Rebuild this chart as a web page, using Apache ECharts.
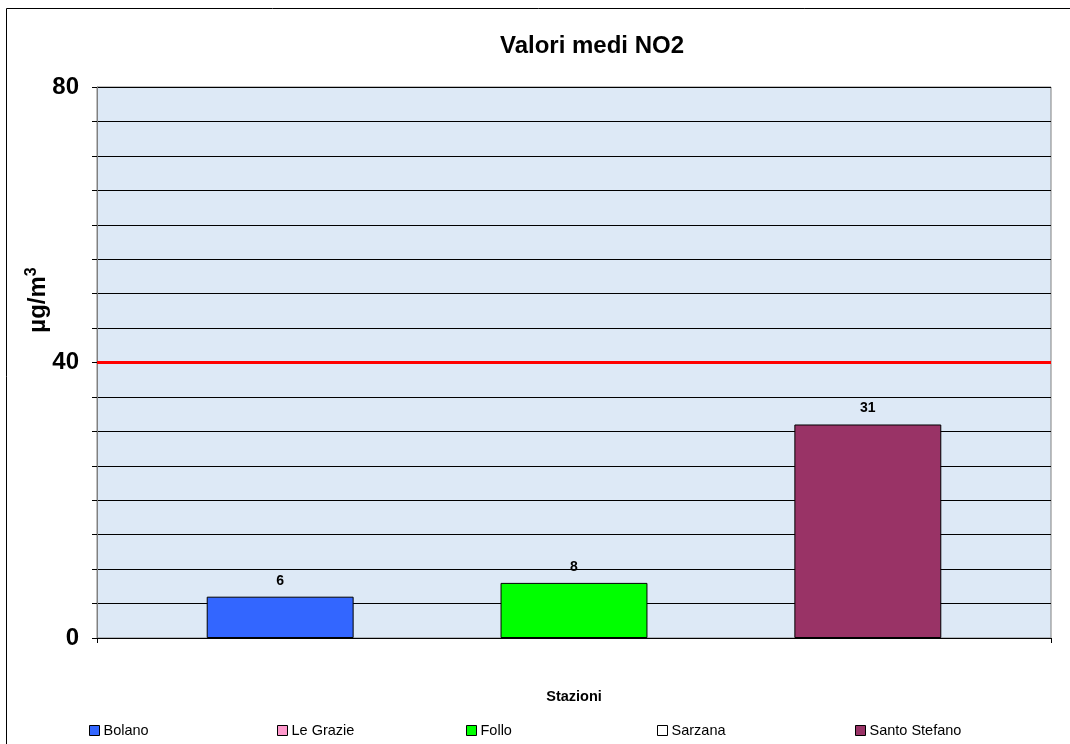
<!DOCTYPE html>
<html>
<head>
<meta charset="utf-8">
<title>Valori medi NO2</title>
<script src="https://cdn.jsdelivr.net/npm/echarts@6/dist/echarts.min.js"></script>
<style>
  html, body { margin: 0; padding: 0; background: #fff; }
  #chart { width: 1070px; height: 744px; }
</style>
</head>
<body>
<div id="chart"></div>
<script>
// dati
var categories = [''];
var stazioni = ['Bolano', 'Le Grazie', 'Follo', 'Sarzana', 'Santo Stefano'];
var valori = [6, null, 8, null, 31];
var colori = ['#3366ff', '#ff99cc', '#00ff00', '#ffffff', '#993366'];
var limite = 40;
var yLabels = [0, 40, 80];
var legendLeft = [89, 277, 466, 657, 855];

var font = 'Liberation Sans, Arial, sans-serif';
var myChart = echarts.init(document.getElementById('chart'));

var series = stazioni.map(function (nome, i) {
    var s = {
        name: nome,
        type: 'bar',
        data: [valori[i]],
        barGap: '0%',
        barCategoryGap: '23%',
        itemStyle: {
            color: colori[i],
            borderColor: '#000',
            borderWidth: 1
        },
        label: {
            show: true,
            position: 'top',
            distance: 9,
            color: '#000',
            fontFamily: font,
            fontWeight: 'bold',
            fontSize: 14
        }
    };
    if (i === 0) {
        s.markLine = {
            symbol: 'none',
            silent: true,
            label: { show: false },
            lineStyle: { color: '#ff0000', width: 3, type: 'solid' },
            data: [{ yAxis: limite }]
        };
    }
    return s;
});

var legends = stazioni.map(function (nome, i) {
    return {
        data: [nome],
        left: legendLeft[i],
        top: 723,
        padding: 0,
        itemWidth: 10,
        itemHeight: 10,
        icon: 'rect',
        itemStyle: { borderColor: '#000', borderWidth: 1 },
        textStyle: { fontFamily: font, fontSize: 14.5, color: '#000', padding: [0, 0, 0, -1] },
        selectedMode: false
    };
});

var option = {
    animation: false,
    backgroundColor: '#fff',
    title: {
        text: 'Valori medi NO2',
        left: 587,
        textAlign: 'center',
        top: 29,
        textStyle: { fontFamily: font, fontSize: 24, fontWeight: 'bold', color: '#000' }
    },
    legend: legends,
    grid: {
        left: 97,
        right: 19,
        top: 87,
        bottom: 106,
        show: true,
        backgroundColor: '#dde9f6',
        borderColor: '#808080',
        borderWidth: 1
    },
    xAxis: {
        type: 'category',
        data: categories,
        name: 'Stazioni',
        nameLocation: 'middle',
        nameGap: 51,
        nameTextStyle: { fontFamily: font, fontSize: 14.5, fontWeight: 'bold', color: '#000' },
        axisLine: { lineStyle: { color: '#000', width: 1 } },
        axisTick: { show: true, length: 5, lineStyle: { color: '#000' } },
        axisLabel: { show: false }
    },
    yAxis: {
        type: 'value',
        min: 0,
        max: 80,
        interval: 5,
        axisLine: { show: true, lineStyle: { color: '#808080' } },
        axisTick: { show: true, inside: false, length: 5, lineStyle: { color: '#000' } },
        splitLine: { show: true, lineStyle: { color: '#000', width: 1 } },
        axisLabel: {
            margin: 18,
            fontFamily: font,
            fontSize: 24,
            fontWeight: 'bold',
            color: '#000',
            formatter: function (v) {
                return yLabels.indexOf(v) >= 0 ? String(v) : '';
            }
        }
    },
    graphic: [{
        type: 'rect',
        shape: { x: 6.5, y: 8.5, width: 1200, height: 900 },
        style: { fill: null, stroke: '#000', lineWidth: 1 },
        silent: true,
        z: 100
    }, {
        // titolo asse y con esponente
        type: 'text',
        x: 38,
        y: 300,
        rotation: Math.PI / 2,
        silent: true,
        style: {
            text: 'µg/m{sup|3}',
            align: 'center',
            verticalAlign: 'middle',
            fill: '#000',
            font: 'bold 24px ' + font,
            rich: {
                sup: { fontFamily: font, fontSize: 16, fontWeight: 'bold', fill: '#000', padding: [0, 0, 12, 0] }
            }
        }
    }],
    series: series
};
myChart.setOption(option);
</script>
</body>
</html>
